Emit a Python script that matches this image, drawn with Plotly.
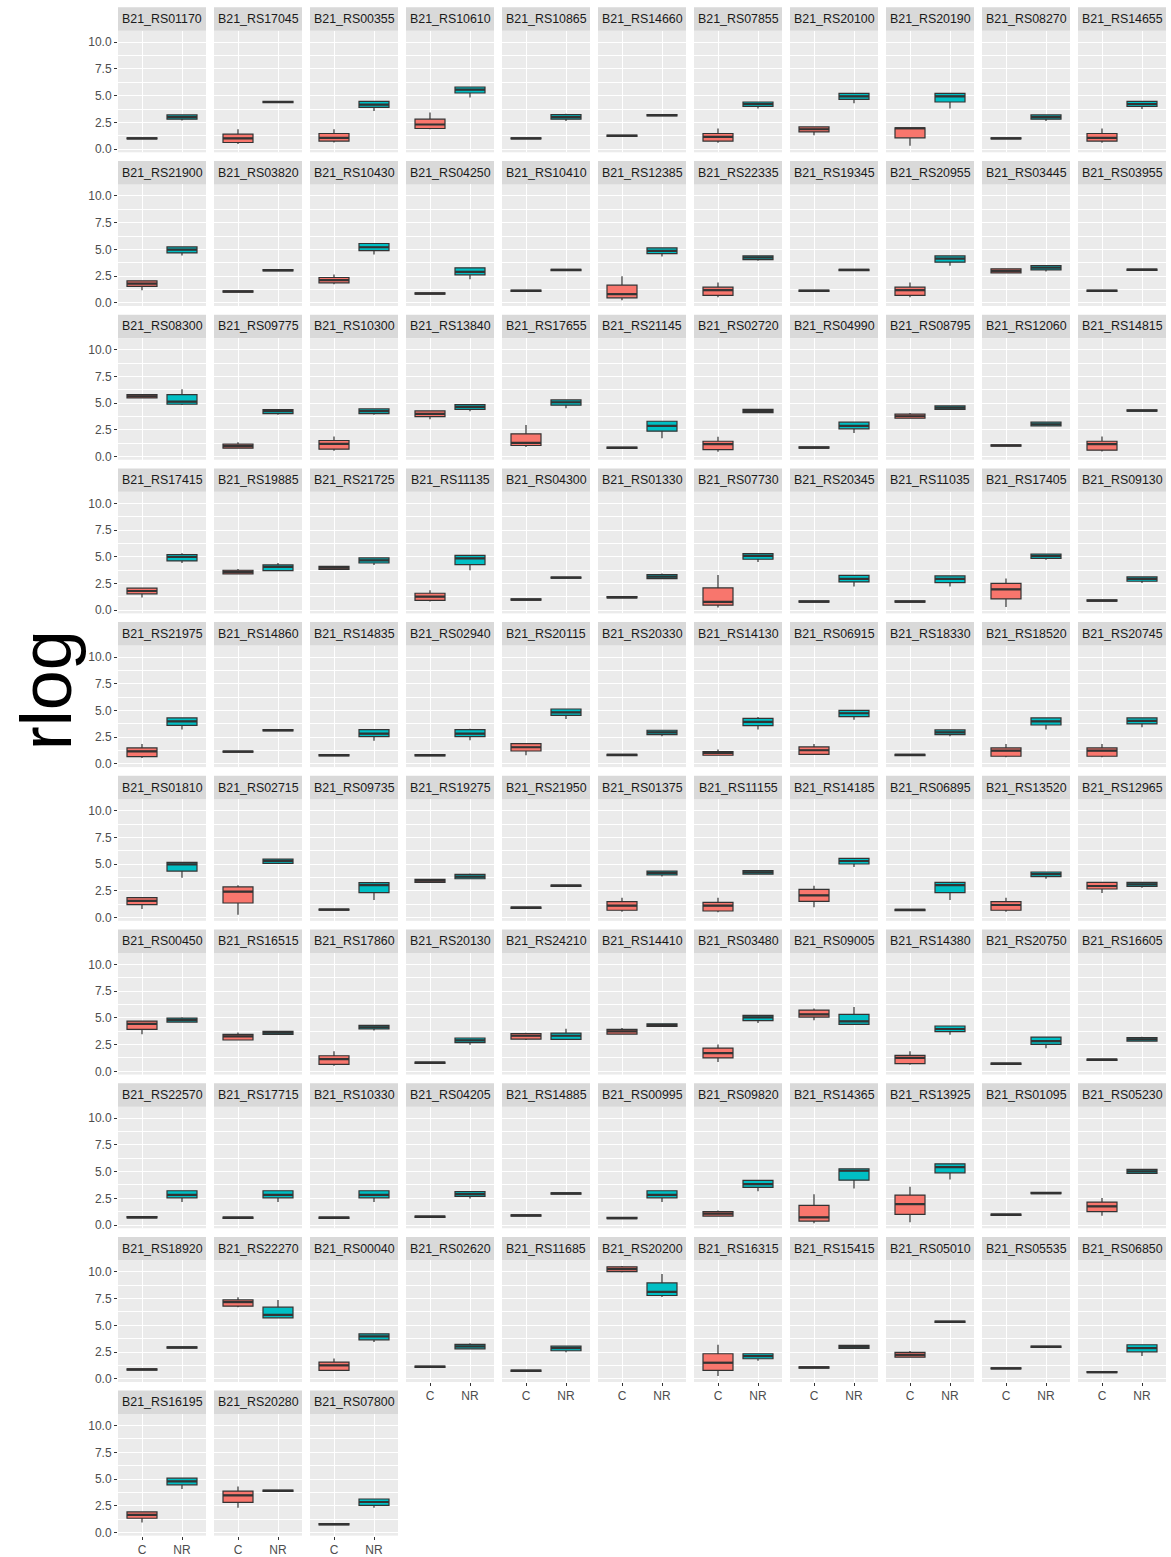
import plotly.graph_objects as go

genes = [
    "B21_RS01170", "B21_RS17045", "B21_RS00355", "B21_RS10610", "B21_RS10865", "B21_RS14660", "B21_RS07855", "B21_RS20100", "B21_RS20190", "B21_RS08270", "B21_RS14655",
    "B21_RS21900", "B21_RS03820", "B21_RS10430", "B21_RS04250", "B21_RS10410", "B21_RS12385", "B21_RS22335", "B21_RS19345", "B21_RS20955", "B21_RS03445", "B21_RS03955",
    "B21_RS08300", "B21_RS09775", "B21_RS10300", "B21_RS13840", "B21_RS17655", "B21_RS21145", "B21_RS02720", "B21_RS04990", "B21_RS08795", "B21_RS12060", "B21_RS14815",
    "B21_RS17415", "B21_RS19885", "B21_RS21725", "B21_RS11135", "B21_RS04300", "B21_RS01330", "B21_RS07730", "B21_RS20345", "B21_RS11035", "B21_RS17405", "B21_RS09130",
    "B21_RS21975", "B21_RS14860", "B21_RS14835", "B21_RS02940", "B21_RS20115", "B21_RS20330", "B21_RS14130", "B21_RS06915", "B21_RS18330", "B21_RS18520", "B21_RS20745",
    "B21_RS01810", "B21_RS02715", "B21_RS09735", "B21_RS19275", "B21_RS21950", "B21_RS01375", "B21_RS11155", "B21_RS14185", "B21_RS06895", "B21_RS13520", "B21_RS12965",
    "B21_RS00450", "B21_RS16515", "B21_RS17860", "B21_RS20130", "B21_RS24210", "B21_RS14410", "B21_RS03480", "B21_RS09005", "B21_RS14380", "B21_RS20750", "B21_RS16605",
    "B21_RS22570", "B21_RS17715", "B21_RS10330", "B21_RS04205", "B21_RS14885", "B21_RS00995", "B21_RS09820", "B21_RS14365", "B21_RS13925", "B21_RS01095", "B21_RS05230",
    "B21_RS18920", "B21_RS22270", "B21_RS00040", "B21_RS02620", "B21_RS11685", "B21_RS20200", "B21_RS16315", "B21_RS15415", "B21_RS05010", "B21_RS05535", "B21_RS06850",
    "B21_RS16195", "B21_RS20280", "B21_RS07800",
]

groups = ["C", "NR"]

# Condition C box statistics (rlog)
c_low = [
    0.95, 0.47, 0.62, 1.86, 0.95, 1.18, 0.59, 1.30, 0.31, 0.95, 0.59,
    1.18, 1.00, 1.74, 0.81, 1.06, 0.25, 0.53, 1.06, 0.53, 2.80, 1.06,
    5.48, 0.78, 0.53, 3.49, 0.90, 0.75, 0.44, 0.78, 3.58, 0.97, 0.47,
    1.18, 3.40, 3.83, 0.81, 0.94, 1.15, 0.25, 0.75, 0.75, 0.31, 0.84,
    0.56, 1.09, 0.75, 0.75, 0.81, 0.78, 0.81, 0.90, 0.78, 0.62, 0.62,
    0.81, 0.28, 0.69, 3.30, 0.87, 0.56, 0.50, 0.97, 0.66, 0.56, 2.31,
    3.46, 2.93, 0.53, 0.75, 2.93, 3.49, 0.87, 4.77, 0.62, 0.66, 1.03,
    0.66, 0.63, 0.63, 0.72, 0.84, 0.59, 0.84, 0.16, 0.25, 0.91, 0.87,
    0.81, 6.70, 0.78, 1.06, 0.69, 9.94, 0.25, 1.00, 2.02, 0.91, 0.56,
    0.93, 2.32, 0.71,
]
c_q1 = [
    0.95, 0.62, 0.75, 1.93, 0.95, 1.18, 0.75, 1.61, 1.06, 0.95, 0.75,
    1.53, 1.00, 1.87, 0.81, 1.06, 0.47, 0.69, 1.06, 0.69, 2.80, 1.06,
    5.48, 0.78, 0.69, 3.74, 1.03, 0.75, 0.65, 0.78, 3.58, 0.97, 0.59,
    1.53, 3.40, 3.83, 0.93, 0.94, 1.15, 0.47, 0.75, 0.75, 1.06, 0.84,
    0.69, 1.09, 0.75, 0.75, 1.21, 0.78, 0.81, 0.90, 0.78, 0.72, 0.72,
    1.21, 1.37, 0.69, 3.30, 0.87, 0.69, 0.62, 1.53, 0.66, 0.69, 2.68,
    3.93, 2.93, 0.65, 0.75, 3.02, 3.49, 1.25, 5.08, 0.72, 0.66, 1.03,
    0.66, 0.63, 0.63, 0.72, 0.84, 0.59, 0.84, 0.37, 1.00, 0.91, 1.25,
    0.81, 6.79, 0.78, 1.06, 0.69, 10.03, 0.78, 1.00, 2.02, 0.91, 0.56,
    1.33, 2.82, 0.71,
]
c_med = [
    1.00, 1.00, 1.06, 2.30, 1.00, 1.24, 1.15, 1.86, 1.95, 1.00, 1.06,
    1.80, 1.06, 2.12, 0.87, 1.12, 0.81, 1.18, 1.12, 1.18, 2.99, 1.12,
    5.64, 0.97, 1.18, 3.99, 1.28, 0.81, 1.15, 0.84, 3.77, 1.03, 1.15,
    1.80, 3.58, 3.99, 1.28, 1.00, 1.21, 0.78, 0.81, 0.81, 1.96, 0.90,
    1.18, 1.15, 0.81, 0.81, 1.56, 0.84, 1.03, 1.28, 0.84, 1.25, 1.25,
    1.56, 2.43, 0.75, 3.46, 0.93, 1.12, 1.12, 2.09, 0.72, 1.18, 2.96,
    4.45, 3.27, 1.15, 0.81, 3.33, 3.74, 1.71, 5.33, 1.25, 0.72, 1.09,
    0.72, 0.69, 0.69, 0.78, 0.90, 0.65, 1.06, 0.72, 1.96, 0.97, 1.74,
    0.87, 7.17, 1.25, 1.12, 0.75, 10.25, 1.50, 1.06, 2.24, 0.97, 0.62,
    1.64, 3.47, 0.77,
]
c_q3 = [
    1.05, 1.40, 1.46, 2.80, 1.05, 1.30, 1.46, 2.08, 2.00, 1.05, 1.46,
    2.06, 1.12, 2.37, 0.93, 1.18, 1.65, 1.46, 1.18, 1.46, 3.18, 1.18,
    5.79, 1.15, 1.50, 4.27, 2.12, 0.87, 1.43, 0.90, 3.96, 1.09, 1.43,
    2.06, 3.74, 4.11, 1.59, 1.06, 1.27, 2.09, 0.87, 0.87, 2.52, 0.96,
    1.50, 1.21, 0.87, 0.87, 1.90, 0.90, 1.15, 1.59, 0.90, 1.50, 1.50,
    1.87, 2.87, 0.81, 3.58, 0.99, 1.50, 1.43, 2.65, 0.78, 1.50, 3.30,
    4.70, 3.46, 1.46, 0.87, 3.52, 3.93, 2.18, 5.73, 1.50, 0.78, 1.15,
    0.78, 0.75, 0.75, 0.84, 0.96, 0.71, 1.25, 1.84, 2.80, 1.03, 2.15,
    0.93, 7.38, 1.56, 1.18, 0.81, 10.47, 2.34, 1.12, 2.46, 1.03, 0.68,
    1.92, 3.87, 0.83,
]
c_high = [
    1.05, 1.86, 1.86, 3.42, 1.05, 1.30, 1.93, 2.08, 2.00, 1.05, 1.93,
    2.06, 1.12, 2.65, 0.93, 1.18, 2.49, 1.90, 1.18, 1.90, 3.18, 1.18,
    5.79, 1.34, 1.87, 4.27, 2.96, 0.87, 1.84, 0.90, 4.08, 1.09, 1.87,
    2.06, 3.86, 4.11, 1.87, 1.06, 1.27, 3.30, 0.87, 0.87, 2.96, 0.96,
    1.87, 1.21, 0.87, 0.87, 1.90, 0.90, 1.34, 1.87, 0.90, 1.87, 1.87,
    1.87, 3.02, 0.81, 3.58, 0.99, 1.87, 1.87, 2.99, 0.78, 1.87, 3.30,
    4.70, 3.64, 1.87, 0.87, 3.61, 4.05, 2.52, 5.89, 1.87, 0.78, 1.15,
    0.78, 0.75, 0.75, 0.84, 0.96, 0.71, 1.37, 2.87, 3.58, 1.03, 2.52,
    0.93, 7.63, 1.90, 1.18, 0.81, 10.56, 3.18, 1.12, 2.59, 1.03, 0.68,
    1.92, 4.30, 0.83,
]

# Condition NR box statistics (rlog)
nr_low = [
    2.67, 4.35, 3.57, 4.84, 2.64, 3.11, 3.79, 4.29, 3.79, 2.64, 3.76,
    4.42, 2.99, 4.52, 2.21, 3.02, 4.33, 3.93, 3.02, 3.46, 2.93, 3.04,
    4.83, 3.90, 3.90, 4.24, 4.52, 1.71, 4.11, 2.21, 4.42, 2.87, 4.24,
    4.42, 3.71, 4.24, 3.74, 2.99, 2.96, 4.52, 2.21, 2.21, 4.73, 2.55,
    3.21, 3.09, 2.18, 2.21, 4.20, 2.59, 3.21, 4.14, 2.59, 3.21, 3.43,
    3.74, 5.02, 1.65, 3.64, 2.93, 3.86, 4.08, 4.74, 1.65, 3.64, 2.80,
    4.61, 3.46, 3.83, 2.49, 2.93, 4.20, 4.52, 4.39, 3.43, 2.15, 2.83,
    2.15, 2.15, 2.15, 2.49, 2.90, 2.15, 3.15, 3.43, 4.27, 2.93, 4.83,
    2.87, 5.70, 3.43, 2.80, 2.49, 7.66, 1.68, 2.83, 5.27, 2.93, 2.12,
    4.06, 3.84, 2.32,
]
nr_q1 = [
    2.80, 4.35, 3.91, 5.25, 2.80, 3.11, 4.00, 4.66, 4.41, 2.80, 4.00,
    4.67, 2.99, 4.89, 2.62, 3.02, 4.61, 4.05, 3.02, 3.80, 3.08, 3.04,
    4.89, 4.02, 4.02, 4.42, 4.80, 2.37, 4.11, 2.59, 4.42, 2.87, 4.24,
    4.61, 3.71, 4.42, 4.27, 2.99, 2.96, 4.77, 2.65, 2.59, 4.86, 2.71,
    3.61, 3.09, 2.55, 2.55, 4.55, 2.74, 3.58, 4.42, 2.74, 3.64, 3.74,
    4.36, 5.08, 2.34, 3.64, 2.93, 3.99, 4.08, 5.02, 2.34, 3.83, 2.93,
    4.61, 3.46, 3.96, 2.68, 2.99, 4.20, 4.74, 4.39, 3.71, 2.52, 2.83,
    2.55, 2.55, 2.55, 2.68, 2.90, 2.55, 3.52, 4.20, 4.89, 2.93, 4.83,
    2.87, 5.70, 3.64, 2.80, 2.62, 7.79, 1.87, 2.83, 5.27, 2.93, 2.52,
    4.46, 3.84, 2.54,
]
nr_med = [
    3.00, 4.41, 4.16, 5.56, 3.00, 3.17, 4.22, 4.94, 4.94, 3.00, 4.22,
    4.98, 3.05, 5.20, 2.90, 3.08, 4.86, 4.24, 3.08, 4.14, 3.30, 3.10,
    5.14, 4.24, 4.24, 4.64, 5.08, 2.87, 4.27, 2.87, 4.58, 3.02, 4.30,
    4.98, 4.05, 4.67, 4.86, 3.05, 3.15, 5.08, 2.93, 2.93, 5.08, 2.93,
    3.99, 3.15, 2.83, 2.83, 4.83, 2.96, 3.93, 4.74, 2.96, 3.99, 4.02,
    4.98, 5.30, 3.05, 3.83, 2.99, 4.17, 4.24, 5.30, 3.05, 4.08, 3.12,
    4.80, 3.61, 4.11, 2.90, 3.33, 4.33, 5.05, 4.67, 3.96, 2.83, 2.99,
    2.83, 2.83, 2.83, 2.90, 2.96, 2.83, 3.83, 5.08, 5.42, 2.99, 5.02,
    2.93, 5.98, 3.96, 3.02, 2.87, 8.13, 2.12, 2.99, 5.33, 2.99, 2.87,
    4.77, 3.90, 2.85,
]
nr_q3 = [
    3.20, 4.47, 4.47, 5.81, 3.23, 3.23, 4.41, 5.22, 5.22, 3.20, 4.47,
    5.23, 3.11, 5.55, 3.27, 3.14, 5.14, 4.39, 3.14, 4.39, 3.49, 3.16,
    5.79, 4.39, 4.45, 4.86, 5.30, 3.30, 4.42, 3.21, 4.73, 3.21, 4.36,
    5.20, 4.24, 4.89, 5.14, 3.11, 3.33, 5.30, 3.27, 3.21, 5.26, 3.12,
    4.30, 3.21, 3.21, 3.21, 5.14, 3.15, 4.27, 5.02, 3.18, 4.30, 4.30,
    5.17, 5.48, 3.27, 4.05, 3.05, 4.36, 4.39, 5.55, 3.30, 4.27, 3.30,
    4.98, 3.74, 4.30, 3.12, 3.58, 4.45, 5.23, 5.33, 4.24, 3.21, 3.15,
    3.21, 3.21, 3.21, 3.12, 3.02, 3.21, 4.17, 5.26, 5.73, 3.05, 5.20,
    2.99, 6.70, 4.20, 3.21, 3.05, 8.97, 2.34, 3.12, 5.39, 3.05, 3.18,
    5.08, 3.96, 3.13,
]
nr_high = [
    3.25, 4.47, 4.47, 5.81, 3.30, 3.23, 4.41, 5.22, 5.22, 3.20, 4.47,
    5.23, 3.11, 5.55, 3.27, 3.14, 5.14, 4.39, 3.14, 4.39, 3.49, 3.16,
    6.29, 4.39, 4.45, 4.86, 5.30, 3.30, 4.42, 3.21, 4.73, 3.21, 4.36,
    5.33, 4.42, 4.89, 5.14, 3.11, 3.43, 5.30, 3.27, 3.21, 5.26, 3.12,
    4.30, 3.21, 3.21, 3.30, 5.14, 3.15, 4.39, 5.02, 3.18, 4.30, 4.30,
    5.17, 5.48, 3.27, 4.14, 3.05, 4.36, 4.39, 5.55, 3.30, 4.27, 3.30,
    5.05, 3.74, 4.30, 3.12, 3.99, 4.45, 5.23, 6.01, 4.24, 3.21, 3.24,
    3.21, 3.21, 3.21, 3.12, 3.02, 3.21, 4.17, 5.26, 5.73, 3.05, 5.20,
    2.99, 7.38, 4.20, 3.33, 3.12, 9.81, 2.34, 3.12, 5.39, 3.05, 3.18,
    5.08, 3.96, 3.13,
]

y_tickvals = [0, 2.5, 5, 7.5, 10]
y_ticktext = ["0.0", "2.5", "5.0", "7.5", "10.0"]

# ---- layout geometry (pixels) ----
W, H = 1171, 1557
NCOL = 11
n = len(genes)
col_left0, col_pitch, pan_w = 118.0, 96.0, 88.0
row_top0, row_pitch, strip_h, pan_h = 7.3, 154.2, 23.5, 122.0
BOX_W = 0.75

colors = {"C": "#F8766D", "NR": "#00BFC4"}
font_family = "Liberation Sans, Arial, Helvetica, sans-serif"

fig = go.Figure()
layout = dict(
    width=W, height=H, autosize=False,
    margin=dict(l=0, r=0, t=0, b=0, pad=0),
    paper_bgcolor="white", plot_bgcolor="#EBEBEB",
    showlegend=False, boxmode="overlay",
    font=dict(family=font_family, color="#4D4D4D", size=12),
)
shapes, annotations = [], []

for k, g in enumerate(genes):
    r, c = divmod(k, NCOL)
    x0 = col_left0 + c * col_pitch
    x1 = x0 + pan_w
    st = row_top0 + r * row_pitch
    pt = st + strip_h
    pb = pt + pan_h
    ax = "" if k == 0 else str(k + 1)
    bottom = (k + NCOL) >= n
    left = (c == 0)

    layout["xaxis" + ax] = dict(
        domain=[x0 / W, x1 / W], anchor="y" + ax,
        type="category", categoryorder="array", categoryarray=groups,
        range=[-0.6, 1.6], showgrid=True, gridcolor="white", gridwidth=1.1,
        zeroline=False, showline=False,
        ticks="outside" if bottom else "", ticklen=3, tickcolor="#333333", tickwidth=1,
        showticklabels=bottom,
        tickfont=dict(size=12, color="#4D4D4D", family=font_family),
        fixedrange=True,
    )
    layout["yaxis" + ax] = dict(
        domain=[1 - pb / H, 1 - pt / H], anchor="x" + ax,
        range=[-0.3, 11.08], tickvals=y_tickvals, ticktext=y_ticktext,
        showgrid=True, gridcolor="white", gridwidth=1.1,
        minor=dict(tickvals=[1.25, 3.75, 6.25, 8.75], showgrid=True,
                   gridcolor="white", gridwidth=0.5, ticks=""),
        zeroline=False, showline=False,
        ticks="outside" if left else "", ticklen=3, tickcolor="#333333", tickwidth=1,
        showticklabels=left,
        tickfont=dict(size=12, color="#4D4D4D", family=font_family),
        fixedrange=True,
    )

    stats = {
        "C": (c_low[k], c_q1[k], c_med[k], c_q3[k], c_high[k]),
        "NR": (nr_low[k], nr_q1[k], nr_med[k], nr_q3[k], nr_high[k]),
    }
    for gi, grp in enumerate(groups):
        lo, q1, md, q3, hi = stats[grp]
        fig.add_trace(go.Box(
            x=[grp], q1=[q1], median=[md], q3=[q3], lowerfence=[lo], upperfence=[hi],
            fillcolor=colors[grp], line=dict(color="#333333", width=1.2),
            width=BOX_W, whiskerwidth=0, boxpoints=False,
            xaxis="x" + ax, yaxis="y" + ax, showlegend=False, hoverinfo="skip",
        ))
        # thicker median bar (ggplot's fatten = 2)
        shapes.append(dict(type="line", xref="x" + ax, yref="y" + ax,
                           x0=gi - BOX_W / 2, x1=gi + BOX_W / 2, y0=md, y1=md,
                           line=dict(color="#333333", width=2.2), layer="above"))

    shapes.append(dict(type="rect", xref="paper", yref="paper",
                       x0=x0 / W, x1=x1 / W, y0=1 - pt / H, y1=1 - st / H,
                       fillcolor="#D9D9D9", line=dict(width=0), layer="below"))
    annotations.append(dict(text=g, xref="paper", yref="paper",
                            x=(x0 + x1) / 2 / W, y=1 - (st + pt) / 2 / H,
                            xanchor="center", yanchor="middle", showarrow=False,
                            font=dict(size=12.4, color="#1A1A1A", family=font_family)))

annotations.append(dict(text="rlog", xref="paper", yref="paper",
                        x=46 / W, y=1 - 692.5 / H, xanchor="center", yanchor="middle",
                        textangle=-90, showarrow=False,
                        font=dict(size=72, color="black", family=font_family)))

layout["shapes"] = shapes
layout["annotations"] = annotations
fig.update_layout(**layout)
fig.write_html("out.html")
